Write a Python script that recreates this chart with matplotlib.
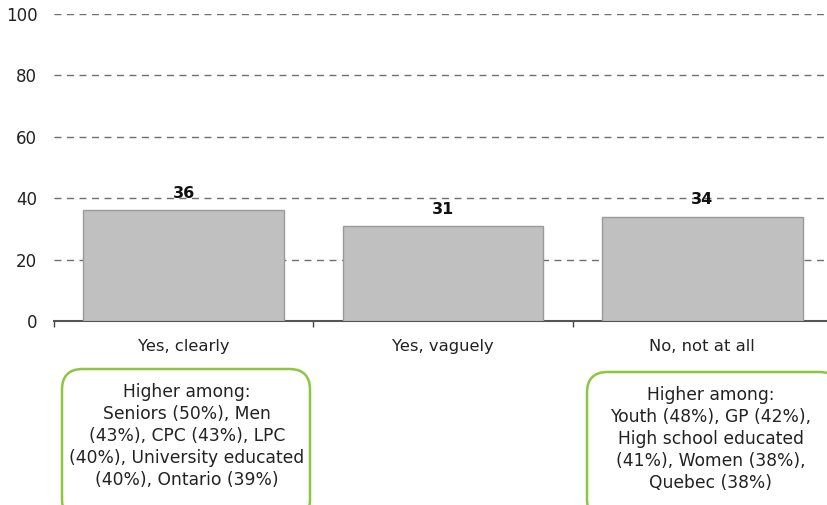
import matplotlib
matplotlib.use("Agg")
import matplotlib.pyplot as plt
from matplotlib.patches import FancyBboxPatch

categories = ["Yes, clearly", "Yes, vaguely", "No, not at all"]
values = [36, 31, 34]
yticks = [0, 20, 40, 60, 80, 100]
box_texts = [
    "Higher among:\nSeniors (50%), Men\n(43%), CPC (43%), LPC\n(40%), University educated\n(40%), Ontario (39%)",
    None,
    "Higher among:\nYouth (48%), GP (42%),\nHigh school educated\n(41%), Women (38%),\nQuebec (38%)",
]

plt.rcParams['font.family'] = ['DejaVu Sans']
W, H = 828, 505
fig = plt.figure(figsize=(W / 100, H / 100), dpi=100)
ax_left, ax_right, ax_top, ax_bottom = 54, 832, 14, 321
ax = fig.add_axes([ax_left / W, 1 - ax_bottom / H, (ax_right - ax_left) / W, (ax_bottom - ax_top) / H])

x = list(range(len(categories)))
ax.bar(x, values, width=0.775, color="#c0c0c0", edgecolor="#9a9a9a", linewidth=1, zorder=3)
for xi, v in zip(x, values):
    ax.annotate(str(v), (xi, v), xytext=(0, 12), textcoords="offset points",
                ha="center", va="center", fontsize=11.5, fontweight="bold", color="#111111", zorder=4)

ax.set_xlim(-0.5, len(categories) - 0.5)
ax.set_ylim(0, 100)
ax.set_yticks(yticks)
ax.set_yticklabels([str(t) for t in yticks], fontsize=12, color="#222222")
ax.yaxis.grid(True, linestyle=(0, (5, 4)), color="#6e6e6e", linewidth=1)
ax.set_axisbelow(True)
ax.tick_params(axis="y", length=0, pad=12)

ax.set_xticks(x)
ax.set_xticklabels(categories, fontsize=11.8, color="#222222")
ax.set_xticks([i - 0.5 for i in range(len(categories) + 1)], minor=True)
ax.tick_params(axis="x", which="major", length=0, pad=13)
ax.tick_params(axis="x", which="minor", length=4, width=1, color="#444444", direction="out")

for s in ["left", "right", "top"]:
    ax.spines[s].set_visible(False)
ax.spines["bottom"].set_color("#555555")
ax.spines["bottom"].set_linewidth(1.5)

# annotation boxes
boxes = [(62, 369, 310, 520), None, (587, 372, 840, 520)]
for bx, txt in zip(boxes, box_texts):
    if bx is None:
        continue
    x0, y0, x1, y1 = bx
    p = FancyBboxPatch((x0 / W, 1 - y1 / H), (x1 - x0) / W, (y1 - y0) / H,
                       boxstyle="round,pad=0,rounding_size=0.025",
                       transform=fig.transFigure, facecolor="white",
                       edgecolor="#8dc63f", linewidth=1.8, mutation_aspect=W / H)
    fig.patches.append(p)
    cx = (x0 + min(x1, 832)) / 2 + 1
    fig.text(cx / W, 1 - (y0 + 14) / H, txt, ha="center", va="top", fontsize=12.3,
             color="#222222", linespacing=1.28)

fig.savefig("out.png", dpi=100)
